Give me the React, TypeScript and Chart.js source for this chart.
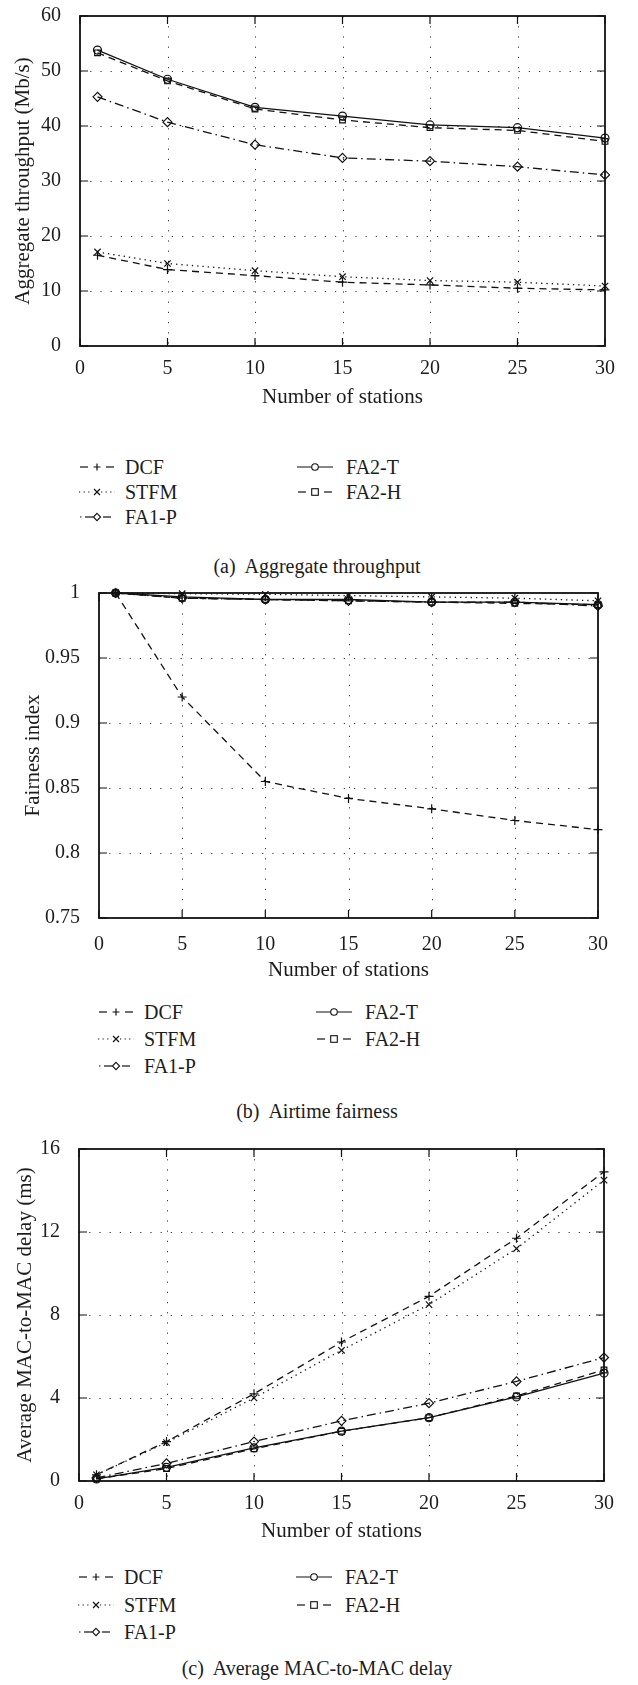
import React, { useEffect, useRef } from 'react';
import { Chart, registerables } from 'chart.js';

Chart.register(...registerables);

// ---------- data ----------
const stations = [1, 5, 10, 15, 20, 25, 30];
const seriesNames = ['DCF', 'STFM', 'FA1-P', 'FA2-T', 'FA2-H'];

// (a) Aggregate throughput (Mb/s)
const thrDCF = [16.5, 13.9, 12.8, 11.6, 11.1, 10.5, 10.2];
const thrSTFM = [17.1, 15.0, 13.7, 12.6, 11.9, 11.6, 10.9];
const thrFA1P = [45.3, 40.7, 36.6, 34.2, 33.6, 32.6, 31.1];
const thrFA2T = [53.8, 48.5, 43.4, 41.8, 40.2, 39.7, 37.8];
const thrFA2H = [53.3, 48.2, 43.1, 41.1, 39.7, 39.2, 37.2];

// (b) Airtime fairness
const fairDCF = [1.0, 0.92, 0.855, 0.842, 0.834, 0.825, 0.818];
const fairSTFM = [1.0, 0.9995, 0.999, 0.998, 0.997, 0.996, 0.994];
const fairFA1P = [1.0, 0.996, 0.995, 0.994, 0.993, 0.993, 0.99];
const fairFA2T = [1.0, 0.997, 0.995, 0.995, 0.993, 0.993, 0.991];
const fairFA2H = [1.0, 0.996, 0.995, 0.994, 0.993, 0.992, 0.991];

// (c) Average MAC-to-MAC delay (ms)
const delayDCF = [0.3, 1.9, 4.2, 6.7, 8.9, 11.7, 14.9];
const delaySTFM = [0.3, 1.85, 4.0, 6.3, 8.5, 11.2, 14.5];
const delayFA1P = [0.15, 0.85, 1.9, 2.9, 3.75, 4.8, 5.95];
const delayFA2T = [0.1, 0.66, 1.6, 2.4, 3.05, 4.05, 5.2];
const delayFA2H = [0.1, 0.6, 1.55, 2.4, 3.05, 4.1, 5.35];

// tick values / labels
const xTickValues = [0, 5, 10, 15, 20, 25, 30];
const xTickLabels = ['0', '5', '10', '15', '20', '25', '30'];
const thrTickValues = [0, 10, 20, 30, 40, 50, 60];
const thrTickLabels = ['0', '10', '20', '30', '40', '50', '60'];
const fairTickValues = [0.75, 0.8, 0.85, 0.9, 0.95, 1];
const fairTickLabels = ['0.75', '0.8', '0.85', '0.9', '0.95', '1'];
const delayTickValues = [0, 4, 8, 12, 16];
const delayTickLabels = ['0', '4', '8', '12', '16'];

const xTitle = 'Number of stations';

// ---------- styles ----------
const FONT = "'Liberation Serif', 'DejaVu Serif', serif";
const INK = '#1c1c1c';
const W = 638;
const TOPPAD = 26;

const seriesStyles = [
  { dash: [7, 5], point: 'cross', radius: 4.5, legendSegs: [[1, 9], [27, 35]], legendDash: '' },
  { dash: [1.3, 4], point: 'crossRot', radius: 4.5, legendSegs: [[0, 14], [22, 36]], legendDash: '1.2 3.4' },
  { dash: [9, 4, 1.5, 4], point: 'rectRot', radius: 4.5, legendSegs: [[1, 2.5], [6, 14], [24, 32]], legendDash: '' },
  { dash: [], point: 'circle', radius: 4, legendSegs: [[0, 36]], legendDash: '' },
  { dash: [7, 5], point: 'rect', radius: 4, legendSegs: [[1, 9], [27, 35]], legendDash: '' },
];

const panels = [
  {
    key: 'a',
    series: [thrDCF, thrSTFM, thrFA1P, thrFA2T, thrFA2H],
    yTickValues: thrTickValues,
    yTickLabels: thrTickLabels,
    yTitle: 'Aggregate throughput (Mb/s)',
    caption: '(a)  Aggregate throughput',
    box: { left: 80, right: 605, top: 16, bottom: 346, xTickPad: 3, xTitleY: 397, yTitleX: 23, legendY: [467, 492, 517], captionY: 566 },
  },
  {
    key: 'b',
    series: [fairDCF, fairSTFM, fairFA1P, fairFA2T, fairFA2H],
    yTickValues: fairTickValues,
    yTickLabels: fairTickLabels,
    yTitle: 'Fairness index',
    caption: '(b)  Airtime fairness',
    box: { left: 99, right: 598, top: 593, bottom: 918, xTickPad: 7, xTitleY: 970, yTitleX: 33, legendY: [1012, 1039, 1066], captionY: 1111 },
  },
  {
    key: 'c',
    series: [delayDCF, delaySTFM, delayFA1P, delayFA2T, delayFA2H],
    yTickValues: delayTickValues,
    yTickLabels: delayTickLabels,
    yTitle: 'Average MAC-to-MAC delay (ms)',
    caption: '(c)  Average MAC-to-MAC delay',
    box: { left: 79, right: 604, top: 1149, bottom: 1481, xTickPad: 3, xTitleY: 1531, yTitleX: 25, legendY: [1577, 1605, 1632], captionY: 1668 },
  },
];

function labelFor(v: number, values: number[], labels: string[]) {
  for (let i = 0; i < values.length; i++) {
    if (Math.abs(values[i] - v) < 1e-9) return labels[i];
  }
  return '';
}

const framePlugin = {
  id: 'gnuFrame',
  beforeDatasetsDraw(chart: any) {
    const { ctx, chartArea: a, scales } = chart;
    const x = scales.x;
    const y = scales.y;
    ctx.save();
    // dotted grid
    ctx.strokeStyle = '#3a3a3a';
    ctx.lineWidth = 1;
    ctx.setLineDash([1.2, 9]);
    x.ticks.forEach((t: any) => {
      const px = Math.round(x.getPixelForValue(t.value)) + 0.5;
      if (px > a.left + 2 && px < a.right - 2) {
        ctx.beginPath();
        ctx.moveTo(px, a.top);
        ctx.lineTo(px, a.bottom);
        ctx.stroke();
      }
    });
    y.ticks.forEach((t: any) => {
      const py = Math.round(y.getPixelForValue(t.value)) + 0.5;
      if (py > a.top + 2 && py < a.bottom - 2) {
        ctx.beginPath();
        ctx.moveTo(a.left, py);
        ctx.lineTo(a.right, py);
        ctx.stroke();
      }
    });
    // inward tick marks on all sides
    ctx.setLineDash([]);
    ctx.strokeStyle = '#111';
    ctx.lineWidth = 1.2;
    const L = 8;
    x.ticks.forEach((t: any) => {
      const px = x.getPixelForValue(t.value);
      ctx.beginPath();
      ctx.moveTo(px, a.bottom);
      ctx.lineTo(px, a.bottom - L);
      ctx.moveTo(px, a.top);
      ctx.lineTo(px, a.top + L);
      ctx.stroke();
    });
    y.ticks.forEach((t: any) => {
      const py = y.getPixelForValue(t.value);
      ctx.beginPath();
      ctx.moveTo(a.left, py);
      ctx.lineTo(a.left + L, py);
      ctx.moveTo(a.right, py);
      ctx.lineTo(a.right - L, py);
      ctx.stroke();
    });
    ctx.restore();
  },
  afterDatasetsDraw(chart: any) {
    const { ctx, chartArea: a } = chart;
    ctx.save();
    ctx.strokeStyle = '#111';
    ctx.lineWidth = 1.8;
    ctx.strokeRect(a.left, a.top, a.right - a.left, a.bottom - a.top);
    ctx.restore();
  },
};

function LegendSample({ idx, style }: { idx: number; style: any }) {
  const st = seriesStyles[idx];
  const cx = 18;
  const cy = 7;
  let marker: any = null;
  if (st.point === 'cross') {
    marker = <path d={`M${cx - 3.5},${cy} H${cx + 3.5} M${cx},${cy - 3.5} V${cy + 3.5}`} stroke="#111" strokeWidth={1.2} />;
  } else if (st.point === 'crossRot') {
    marker = <path d={`M${cx - 3},${cy - 3} L${cx + 3},${cy + 3} M${cx + 3},${cy - 3} L${cx - 3},${cy + 3}`} stroke="#111" strokeWidth={1.2} />;
  } else if (st.point === 'rectRot') {
    marker = <polygon points={`${cx},${cy - 3.6} ${cx + 3.6},${cy} ${cx},${cy + 3.6} ${cx - 3.6},${cy}`} fill="#fff" stroke="#111" strokeWidth={1.1} />;
  } else if (st.point === 'circle') {
    marker = <circle cx={cx} cy={cy} r={3.3} fill="#fff" stroke="#111" strokeWidth={1.1} />;
  } else if (st.point === 'rect') {
    marker = <rect x={cx - 3.3} y={cy - 3.3} width={6.6} height={6.6} fill="none" stroke="#111" strokeWidth={1.1} />;
  }
  return (
    <svg width={36} height={14} style={style}>
      {st.legendSegs.map((sg: number[], k: number) => (
        <line key={k} x1={sg[0]} y1={cy} x2={sg[1]} y2={cy} stroke="#111" strokeWidth={1.2} strokeDasharray={st.legendDash || undefined} />
      ))}
      {marker}
    </svg>
  );
}

function Panel({ p }: { p: any }) {
  const ref = useRef<HTMLCanvasElement>(null);
  const b = p.box;
  const canvasTop = b.top - TOPPAD;
  const canvasBottom = b.xTitleY + 14;
  const canvasH = canvasBottom - canvasTop;

  useEffect(() => {
    if (!ref.current) return;
    const datasets = p.series.map((vals: number[], i: number) => {
      const st = seriesStyles[i];
      return {
        label: seriesNames[i],
        data: stations.map((s, j) => ({ x: s, y: vals[j] })),
        borderColor: '#111',
        borderWidth: 1.3,
        borderDash: st.dash,
        pointStyle: st.point,
        pointRadius: st.radius,
        pointBorderWidth: 1.2,
        pointBorderColor: '#111',
        pointBackgroundColor: 'rgba(0,0,0,0)',
        tension: 0,
        fill: false,
        clip: false,
      };
    });
    const chart = new Chart(ref.current, {
      type: 'line',
      data: { datasets },
      options: {
        animation: false,
        responsive: false,
        maintainAspectRatio: false,
        events: [],
        layout: { padding: { top: TOPPAD, right: W - b.right, left: 0, bottom: 0 } },
        plugins: { legend: { display: false }, tooltip: { enabled: false } },
        scales: {
          x: {
            type: 'linear',
            min: 0,
            max: 30,
            grid: { display: false },
            border: { display: false },
            afterBuildTicks: (s: any) => {
              s.ticks = xTickValues.map((v) => ({ value: v }));
            },
            afterFit: (s: any) => {
              s.height = canvasBottom - b.bottom;
            },
            ticks: {
              autoSkip: false,
              maxRotation: 0,
              padding: b.xTickPad,
              color: INK,
              font: { family: FONT, size: 20, lineHeight: 1.2 },
              callback: (v: any) => labelFor(Number(v), xTickValues, xTickLabels),
            },
            title: {
              display: true,
              text: xTitle,
              color: INK,
              font: { family: FONT, size: 21, lineHeight: 1.2 },
              padding: { top: 0, bottom: 1.4 },
            },
          },
          y: {
            type: 'linear',
            min: p.yTickValues[0],
            max: p.yTickValues[p.yTickValues.length - 1],
            grid: { display: false },
            border: { display: false },
            afterBuildTicks: (s: any) => {
              s.ticks = p.yTickValues.map((v: number) => ({ value: v }));
            },
            afterFit: (s: any) => {
              s.width = b.left;
            },
            ticks: {
              autoSkip: false,
              padding: 11,
              color: INK,
              font: { family: FONT, size: 20, lineHeight: 1.2 },
              callback: (v: any) => labelFor(Number(v), p.yTickValues, p.yTickLabels),
            },
            title: {
              display: true,
              text: p.yTitle,
              color: INK,
              font: { family: FONT, size: 21, lineHeight: 1.2 },
              padding: { top: b.yTitleX - 12.6, bottom: 0 },
            },
          },
        },
      },
      plugins: [framePlugin],
    } as any);
    return () => chart.destroy();
  }, []);

  const cols = [
    [0, 1, 2],
    [3, 4],
  ];
  const colOffsets = [
    { sample: -1, text: 45 },
    { sample: 217, text: 266 },
  ];

  return (
    <>
      <canvas
        ref={ref}
        width={W}
        height={canvasH}
        style={{ position: 'absolute', left: 0, top: canvasTop, width: W, height: canvasH, display: 'block' }}
      />
      {cols.map((col, ci) =>
        col.map((si, ri) => (
          <React.Fragment key={`${p.key}-${si}`}>
            <LegendSample
              idx={si}
              style={{ position: 'absolute', left: b.left + colOffsets[ci].sample, top: b.legendY[ri] - 7 }}
            />
            <div
              style={{
                position: 'absolute',
                left: b.left + colOffsets[ci].text,
                top: b.legendY[ri] - 12,
                height: 24,
                lineHeight: '24px',
                fontFamily: FONT,
                fontSize: 20,
                color: INK,
                whiteSpace: 'nowrap',
              }}
            >
              {seriesNames[si]}
            </div>
          </React.Fragment>
        ))
      )}
      <div
        style={{
          position: 'absolute',
          left: 0,
          width: W - 4,
          top: b.captionY - 12,
          height: 24,
          lineHeight: '24px',
          textAlign: 'center',
          fontFamily: FONT,
          fontSize: 20,
          color: INK,
          whiteSpace: 'pre',
        }}
      >
        {p.caption}
      </div>
    </>
  );
}

export default function App() {
  return (
    <div style={{ position: 'absolute', left: 0, top: 0, width: W, height: 1685, background: '#fff', overflow: 'hidden' }}>
      {panels.map((p) => (
        <Panel key={p.key} p={p} />
      ))}
    </div>
  );
}
